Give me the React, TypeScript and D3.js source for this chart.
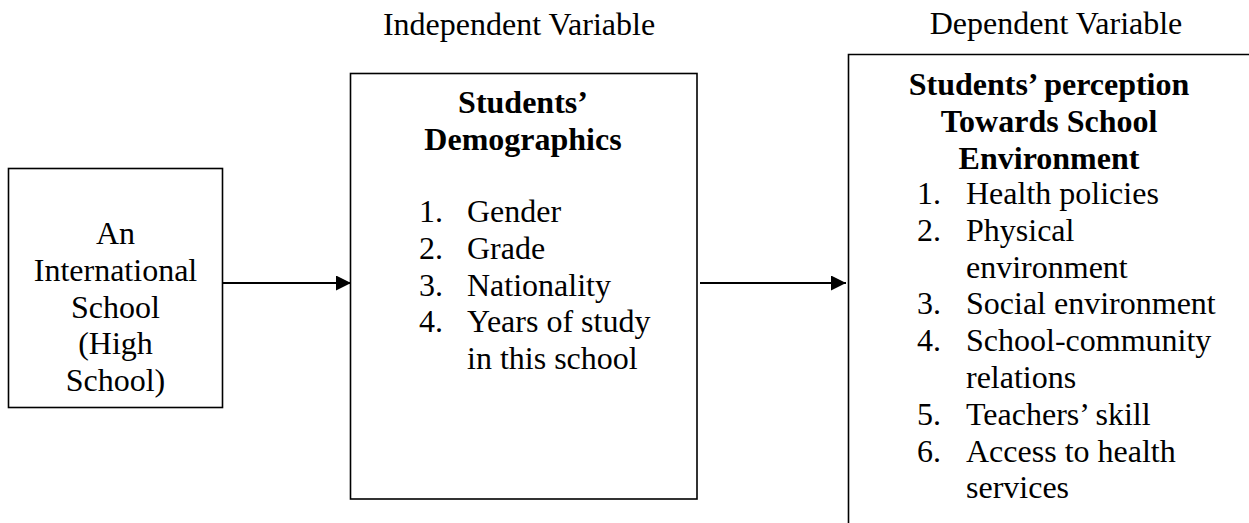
import React, { useEffect, useRef } from 'react';
import * as d3 from 'd3';

// Diagram content
const leftBoxLines = ['An', 'International', 'School', '(High', 'School)'];

const independentLabel = 'Independent Variable';
const independentTitle = ['Students’', 'Demographics'];
const independentItems = [
  ['Gender'],
  ['Grade'],
  ['Nationality'],
  ['Years of study', 'in this school'],
];

const dependentLabel = 'Dependent Variable';
const dependentTitle = ['Students’ perception', 'Towards School', 'Environment'];
const dependentItems = [
  ['Health policies'],
  ['Physical', 'environment'],
  ['Social environment'],
  ['School-community', 'relations'],
  ["Teachers’ skill"],
  ['Access to health', 'services'],
];

const WIDTH = 1249;
const HEIGHT = 523;
const FONT = '"Liberation Serif", "Times New Roman", serif';
const FONT_SIZE = 32;
const LINE_H = 36.8;

const App = () => {
  const ref = useRef<SVGSVGElement>(null);

  useEffect(() => {
    const svg = d3.select(ref.current);
    svg.selectAll('*').remove();
    svg.attr('width', WIDTH).attr('height', HEIGHT);

    svg.append('defs')
      .append('marker')
      .attr('id', 'arrowhead')
      .attr('viewBox', '0 0 10 10')
      .attr('refX', 10)
      .attr('refY', 5)
      .attr('markerUnits', 'userSpaceOnUse')
      .attr('markerWidth', 15)
      .attr('markerHeight', 15)
      .attr('orient', 'auto')
      .append('path')
      .attr('d', 'M0,0 L10,5 L0,10 Z')
      .attr('fill', '#000');

    const text = (x: number, y: number, s: string, anchor = 'start', bold = false) =>
      svg.append('text')
        .attr('x', x)
        .attr('y', y)
        .attr('text-anchor', anchor)
        .attr('font-family', FONT)
        .attr('font-size', FONT_SIZE)
        .attr('font-weight', bold ? 'bold' : 'normal')
        .attr('fill', '#000')
        .text(s);

    // line index -> baseline
    const lineY = (start: number) => d3.scaleLinear().domain([0, 1]).range([start, start + LINE_H]);

    // Boxes
    const boxes = [
      { x0: 8.5, y0: 168.5, x1: 222.5, y1: 407.5 },
      { x0: 350.5, y0: 73.5, x1: 697, y1: 499 },
    ];
    svg.selectAll('rect.box')
      .data(boxes)
      .enter()
      .append('rect')
      .attr('class', 'box')
      .attr('x', d => d.x0)
      .attr('y', d => d.y0)
      .attr('width', d => d.x1 - d.x0)
      .attr('height', d => d.y1 - d.y0)
      .attr('fill', 'none')
      .attr('stroke', '#000')
      .attr('stroke-width', 1.6);

    // Right box runs off the page
    svg.append('path')
      .attr('d', d3.line()([[848.5, HEIGHT + 2], [848.5, 54.5], [WIDTH + 2, 54.5]]))
      .attr('fill', 'none')
      .attr('stroke', '#000')
      .attr('stroke-width', 1.6);

    // Arrows
    const arrows = [
      [[223, 283], [351, 283]],
      [[700, 283], [846, 283]],
    ] as [number, number][][];
    svg.selectAll('path.arrow')
      .data(arrows)
      .enter()
      .append('path')
      .attr('class', 'arrow')
      .attr('d', d => d3.line()(d))
      .attr('stroke', '#000')
      .attr('stroke-width', 2)
      .attr('marker-end', 'url(#arrowhead)');

    // Left box
    const yLeft = lineY(244);
    leftBoxLines.forEach((s, i) => text(115.5, yLeft(i), s, 'middle'));

    // Column headers
    text(519, 35, independentLabel, 'middle');
    text(1056, 34, dependentLabel, 'middle');

    // Middle box
    const yMidTitle = lineY(113);
    independentTitle.forEach((s, i) => text(523, yMidTitle(i), s, 'middle', true));
    const yMid = lineY(222);
    let k = 0;
    independentItems.forEach((item, i) => {
      text(419, yMid(k), `${i + 1}.`);
      item.forEach(s => { text(467, yMid(k), s); k++; });
    });

    // Right box
    const yRightTitle = lineY(95);
    dependentTitle.forEach((s, i) => text(1049, yRightTitle(i), s, 'middle', true));
    const yRight = lineY(204);
    k = 0;
    dependentItems.forEach((item, i) => {
      text(917, yRight(k), `${i + 1}.`);
      item.forEach(s => { text(966, yRight(k), s); k++; });
    });
  }, []);

  return (
    <svg ref={ref} style={{ position: 'absolute', left: 0, top: 0, background: '#fff' }}></svg>
  );
};

export default App;
